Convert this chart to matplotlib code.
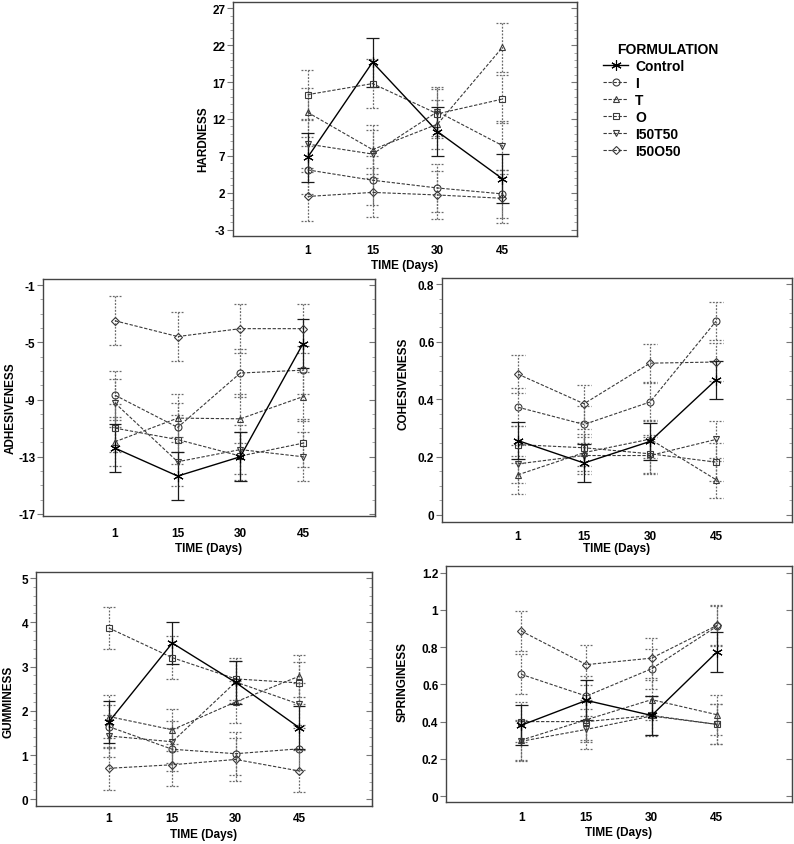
import matplotlib
matplotlib.use("Agg")
import matplotlib.pyplot as plt
from matplotlib.ticker import MultipleLocator, FixedLocator
from matplotlib.lines import Line2D

plt.rcParams['font.family'] = ['Liberation Sans', 'DejaVu Sans']
plt.rcParams['font.weight'] = 'bold'
plt.rcParams['axes.unicode_minus'] = False

days = ["1", "15", "30", "45"]
formulations = ["Control", "I", "T", "O", "I50T50", "I50O50"]

hardness = {
    "Control": [6.8, 19.7, 10.3, 3.9],
    "I": [5.1, 3.7, 2.65, 1.85],
    "T": [12.9, 7.85, 11.3, 21.7],
    "O": [15.3, 16.8, 12.7, 14.7],
    "I50T50": [8.6, 7.25, 13.0, 8.4],
    "I50O50": [1.5, 2.05, 1.7, 1.25],
}
hardness_err = 3.3

adhesiveness = {
    "Control": [-12.4, -14.35, -13.0, -5.1],
    "I": [-8.7, -10.95, -7.15, -6.95],
    "T": [-11.95, -10.3, -10.35, -8.8],
    "O": [-11.0, -11.8, -12.95, -12.05],
    "I50T50": [-9.25, -13.35, -12.5, -13.0],
    "I50O50": [-3.5, -4.6, -4.05, -4.05],
}
adhesiveness_err = 1.7

cohesiveness = {
    "Control": [0.257, 0.179, 0.254, 0.468],
    "I": [0.373, 0.313, 0.391, 0.672],
    "T": [0.138, 0.215, 0.262, 0.121],
    "O": [0.243, 0.232, 0.211, 0.182],
    "I50T50": [0.176, 0.205, 0.205, 0.261],
    "I50O50": [0.488, 0.385, 0.526, 0.530],
}
cohesiveness_err = 0.065

gumminess = {
    "Control": [1.75, 3.53, 2.64, 1.62],
    "I": [1.64, 1.13, 1.03, 1.14],
    "T": [1.87, 1.57, 2.2, 2.78],
    "O": [3.87, 3.2, 2.72, 2.63],
    "I50T50": [1.43, 1.3, 2.65, 2.15],
    "I50O50": [0.70, 0.78, 0.90, 0.64],
}
gumminess_err = 0.48

springiness = {
    "Control": [0.38, 0.514, 0.433, 0.774],
    "I": [0.654, 0.537, 0.684, 0.912],
    "T": [0.30, 0.41, 0.518, 0.437],
    "O": [0.40, 0.40, 0.433, 0.385],
    "I50T50": [0.294, 0.358, 0.43, 0.385],
    "I50O50": [0.887, 0.706, 0.741, 0.917],
}
springiness_err = 0.107

markers = {
    "Control": (6, 2, 0),
    "I": "o",
    "T": "^",
    "O": "s",
    "I50T50": "v",
    "I50O50": "D",
}
msizes = {"Control": 7.5, "I": 5, "T": 5, "O": 5, "I50T50": 5, "I50O50": 4.2}

W, H = 794, 845
fig = plt.figure(figsize=(W / 100, H / 100), dpi=100)


def px_axes(l, t, r, b):
    return fig.add_axes([l / W, 1 - b / H, (r - l) / W, (b - t) / H])


DASH = (0, (3, 1.5))
EDASH = (0, (1.5, 1.2))
CAPW = 0.1


def draw_panel(ax, data, err, ylim, major, minor, ylabel, ylab_xy, xlab_y,
               yticks=None, xpad=5.5):
    xs = list(range(len(days)))
    for name in formulations[::-1]:
        vals = data[name]
        ctrl = name == "Control"
        col = "black" if ctrl else "#3a3a3a"
        ecol = "#1a1a1a" if ctrl else "#6a6a6a"
        ls = "-" if ctrl else DASH
        els = "-" if ctrl else EDASH
        lw = 1.0 if ctrl else 0.8
        lo = [v - err for v in vals]
        hi = [v + err for v in vals]
        ax.vlines(xs, lo, hi, colors=ecol, linestyles=els, linewidth=0.9, zorder=2)
        for ends in (lo, hi):
            ax.hlines(ends, [x - CAPW for x in xs], [x + CAPW for x in xs],
                      colors=ecol, linestyles=els, linewidth=0.9, zorder=2)
        ax.plot(xs, vals, linestyle=ls, color=col, linewidth=lw,
                marker=markers[name], markersize=msizes[name],
                markerfacecolor="none", markeredgecolor=col,
                markeredgewidth=0.8, label=name, zorder=3)
    ax.set_xlim(-1.15, 4.15)
    ax.set_xticks(xs)
    ax.set_xticklabels(days, fontsize=8.5, fontweight="bold")
    ax.tick_params(axis="x", length=0, pad=xpad)
    ax.set_ylim(*ylim)
    if yticks is not None:
        ax.yaxis.set_major_locator(FixedLocator(yticks))
    else:
        ax.yaxis.set_major_locator(MultipleLocator(major))
    if minor:
        ax.yaxis.set_minor_locator(MultipleLocator(minor))
    ax.tick_params(axis="y", which="major", direction="out", length=4,
                   width=0.8, color="#777777", labelsize=8.5, pad=1.5)
    ax.tick_params(axis="y", which="minor", direction="out", length=2.5,
                   width=0.6, color="#999999")
    for lab in ax.get_yticklabels():
        lab.set_fontweight("bold")
    sec = ax.secondary_yaxis("right")
    if yticks is not None:
        sec.yaxis.set_major_locator(FixedLocator(yticks))
    else:
        sec.yaxis.set_major_locator(MultipleLocator(major))
    if minor:
        sec.yaxis.set_minor_locator(MultipleLocator(minor))
    sec.tick_params(which="major", direction="in", length=4, width=0.8,
                    color="#777777", labelright=False)
    sec.tick_params(which="minor", direction="in", length=2.5, width=0.6,
                    color="#999999")
    sec.spines["right"].set_color("#444444")
    for sp in ax.spines.values():
        sp.set_color("#444444")
        sp.set_linewidth(1.0)
    ax.set_ylabel(ylabel, fontsize=8.5, fontweight="bold")
    ax.yaxis.set_label_coords(*ylab_xy)
    ax.set_xlabel("TIME (Days)", fontsize=8.5, fontweight="bold")
    ax.xaxis.set_label_coords(0.5, xlab_y)


ax_h = px_axes(233, 3, 577, 237)
draw_panel(ax_h, hardness, hardness_err, (-3.86, 27.86), 5, 1, "HARDNESS",
           (-0.070, 0.42), -0.098, yticks=[-3, 2, 7, 12, 17, 22, 27],
           xpad=5.5)

ax_a = px_axes(43, 280, 375, 517)
draw_panel(ax_a, adhesiveness, adhesiveness_err, (-17.14, -0.58), 4, 1,
           "ADHESIVENESS", (-0.078, 0.46), -0.11,
           yticks=[-17, -13, -9, -5, -1], xpad=8)

ax_c = px_axes(442, 279, 792, 523)
draw_panel(ax_c, cohesiveness, cohesiveness_err, (-0.026, 0.822), 0.2, 0.05,
           "COHESIVENESS", (-0.094, 0.57), -0.082,
           yticks=[0, 0.2, 0.4, 0.6, 0.8], xpad=6)
ax_c.set_yticklabels(["0", "0.2", "0.4", "0.6", "0.8"], fontweight="bold")

ax_g = px_axes(36, 573, 372, 807)
draw_panel(ax_g, gumminess, gumminess_err, (-0.152, 5.136), 1, 0.2,
           "GUMMINESS", (-0.065, 0.45), -0.094, xpad=4.5)

ax_s = px_axes(446, 567, 792, 803)
draw_panel(ax_s, springiness, springiness_err, (-0.032, 1.236), 0.2, None,
           "SPRINGINESS", (-0.107, 0.513), -0.102,
           yticks=[0, 0.2, 0.4, 0.6, 0.8, 1.0, 1.2], xpad=6.5)
ax_s.set_yticklabels(["0", "0.2", "0.4", "0.6", "0.8", "1", "1.2"],
                     fontweight="bold")

# legend
handles = []
for name in formulations:
    ctrl = name == "Control"
    col = "black" if ctrl else "#3a3a3a"
    handles.append(Line2D([], [], linestyle="-" if ctrl else DASH, color=col,
                          linewidth=1.0 if ctrl else 0.8,
                          marker=markers[name], markersize=msizes[name],
                          markerfacecolor="none", markeredgecolor=col,
                          markeredgewidth=0.8))
fig.text(617 / W, 1 - 50 / H, "FORMULATION", fontsize=10, fontweight="bold",
         ha="left", va="center")
leg = fig.legend(handles, formulations, loc="upper left",
                 bbox_to_anchor=(603 / W, 1 - 60 / H), frameon=False,
                 handlelength=1.8, handletextpad=0.5,
                 labelspacing=0.22, borderpad=0, borderaxespad=0,
                 prop={"size": 10, "weight": "bold"})

fig.savefig("out.png", dpi=100)
